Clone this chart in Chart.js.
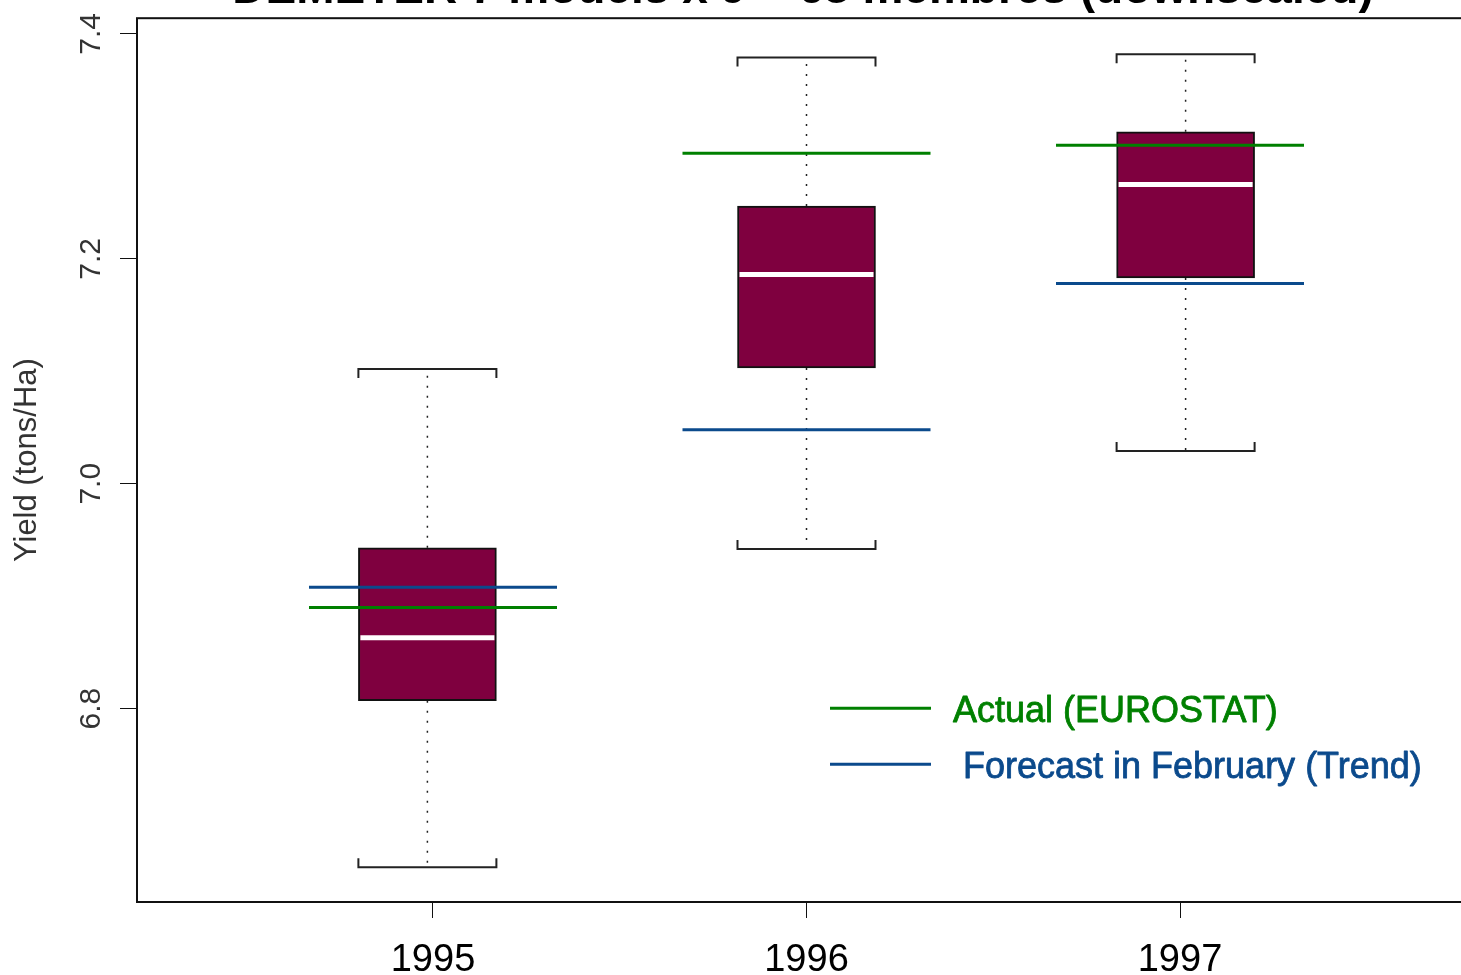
<!DOCTYPE html>
<html>
<head>
<meta charset="utf-8">
<title>DEMETER yield boxplot</title>
<script src="https://cdn.jsdelivr.net/npm/chart.js@4.4.1/dist/chart.umd.min.js"></script>
<style>
  html, body { margin: 0; padding: 0; background: #fff; overflow: hidden; }
  #wrap { position: relative; width: 1461px; height: 975px; overflow: hidden; }
  #yieldChart { position: absolute; left: 0; top: -40px; }
</style>
</head>
<body>
<div id="wrap"><canvas id="yieldChart" width="1606" height="1015"></canvas></div>
<script>
// Ensemble yield spread per year (tons/Ha)
const years = [1995, 1996, 1997];
const boxAt = [1994.985, 1996.0, 1997.015];
const whiskerLow = [6.659, 6.942, 7.029];
const boxLow = [6.807, 7.103, 7.183];
const median = [6.863, 7.186, 7.266];
const boxHigh = [6.943, 7.247, 7.313];
const whiskerHigh = [7.102, 7.379, 7.382];

// Reference values
const actual = [6.890, 7.294, 7.301];
const forecast = [6.908, 7.048, 7.178];

const yTicks = [6.8, 7.0, 7.2, 7.4];
const legendLabels = ["Actual (EUROSTAT)", " Forecast in February (Trend)"];

const boxColor = "#7f003f";
const green = "#008000";
const blue = "#0b4a8c";
const font = "'Liberation Sans', Arial, Helvetica, sans-serif";

// Whiskers, caps, frame, rotated y labels and the legend
const extras = {
    id: "extras",
    beforeDatasetsDraw(chart) {
        const { ctx } = chart;
        const x = chart.scales.x, y = chart.scales.y;
        ctx.save();
        boxAt.forEach(function (pos, i) {
            const px = x.getPixelForValue(pos);
            // dotted whiskers
            ctx.strokeStyle = "#222";
            ctx.lineWidth = 1.5;
            ctx.setLineDash([2, 8]);
            ctx.beginPath();
            ctx.moveTo(px, y.getPixelForValue(boxHigh[i]));
            ctx.lineTo(px, y.getPixelForValue(whiskerHigh[i]));
            ctx.moveTo(px, y.getPixelForValue(boxLow[i]));
            ctx.lineTo(px, y.getPixelForValue(whiskerLow[i]));
            ctx.stroke();
            // bracket caps
            ctx.setLineDash([]);
            ctx.lineWidth = 2;
            const hw = 69;
            const top = y.getPixelForValue(whiskerHigh[i]);
            const bot = y.getPixelForValue(whiskerLow[i]);
            ctx.beginPath();
            ctx.moveTo(px - hw, top + 9);
            ctx.lineTo(px - hw, top);
            ctx.lineTo(px + hw, top);
            ctx.lineTo(px + hw, top + 9);
            ctx.moveTo(px - hw, bot - 9);
            ctx.lineTo(px - hw, bot);
            ctx.lineTo(px + hw, bot);
            ctx.lineTo(px + hw, bot - 9);
            ctx.stroke();
        });
        ctx.restore();
    },
    afterDraw(chart) {
        const { ctx, chartArea } = chart;
        const y = chart.scales.y;
        ctx.save();
        // plot frame
        ctx.strokeStyle = "#111";
        ctx.lineWidth = 2;
        ctx.strokeRect(chartArea.left, chartArea.top,
            chartArea.right - chartArea.left, chartArea.bottom - chartArea.top);

        // y tick labels, rotated like the axis title
        ctx.fillStyle = "#333";
        ctx.font = "30px " + font;
        ctx.textAlign = "center";
        ctx.textBaseline = "middle";
        y.ticks.forEach(function (t) {
            ctx.save();
            ctx.translate(chartArea.left - 45, y.getPixelForValue(t.value));
            ctx.rotate(-Math.PI / 2);
            ctx.fillText(t.value.toFixed(1), 0, 0);
            ctx.restore();
        });

        // legend
        const colors = [green, blue];
        const lx = 830, ly = chartArea.top + 690;
        ctx.font = "36px " + font;
        ctx.textAlign = "left";
        ctx.lineJoin = "round";
        legendLabels.forEach(function (label, i) {
            const yy = ly + i * 56;
            ctx.strokeStyle = colors[i];
            ctx.lineWidth = 3;
            ctx.beginPath();
            ctx.moveTo(lx, yy);
            ctx.lineTo(lx + 101, yy);
            ctx.stroke();
            ctx.fillStyle = colors[i];
            ctx.fillText(label, 953, yy + 4);
            ctx.lineWidth = 0.8;
            ctx.strokeText(label, 953, yy + 4);
        });
        ctx.restore();
    }
};

const ctx = document.getElementById("yieldChart").getContext("2d");

new Chart(ctx, {
    type: "bar",
    data: {
        datasets: [
            {
                type: "scatter",
                label: legendLabels[0],
                data: years.map((yr, i) => ({ x: yr, y: actual[i] })),
                pointStyle: "line",
                pointRadius: 124,
                pointBorderColor: green,
                pointBorderWidth: 3,
                order: 0
            },
            {
                type: "scatter",
                label: legendLabels[1],
                data: years.map((yr, i) => ({ x: yr, y: forecast[i] })),
                pointStyle: "line",
                pointRadius: 124,
                pointBorderColor: blue,
                pointBorderWidth: 3,
                order: 1
            },
            {
                type: "scatter",
                label: "Median",
                data: boxAt.map((pos, i) => ({ x: pos, y: median[i] })),
                pointStyle: "line",
                pointRadius: 67,
                pointBorderColor: "#ffffff",
                pointBorderWidth: 5,
                order: 2
            },
            {
                type: "bar",
                label: "Interquartile range",
                data: boxAt.map((pos, i) => ({ x: pos, y: [boxLow[i], boxHigh[i]] })),
                backgroundColor: boxColor,
                borderColor: "#111",
                borderWidth: 2,
                borderSkipped: false,
                barThickness: 138,
                order: 3
            }
        ]
    },
    options: {
        responsive: false,
        animation: false,
        events: [],
        layout: { autoPadding: false, padding: 0 },
        plugins: {
            legend: { display: false },
            tooltip: { enabled: false },
            title: {
                display: true,
                text: "DEMETER 7 models x 9 = 63 membres (downscaled)",
                color: "#000",
                font: { family: font, size: 46, weight: "bold" },
                padding: { top: 3, bottom: 0 }
            }
        },
        scales: {
            x: {
                type: "linear",
                min: 1994.2075,
                max: 1997.7925,
                offset: false,
                afterFit: function (scale) { scale.height = 73; },
                afterBuildTicks: function (scale) {
                    scale.ticks = years.map(v => ({ value: v }));
                },
                ticks: {
                    color: "#000",
                    font: { family: font, size: 38 },
                    padding: 20,
                    maxRotation: 0,
                    callback: function (v) { return String(v); }
                },
                grid: { offset: false, drawOnChartArea: false, drawTicks: true, tickLength: 16, color: "#111", lineWidth: 1 },
                border: { display: false }
            },
            y: {
                type: "linear",
                min: 6.628,
                max: 7.414,
                afterFit: function (scale) { scale.width = 137; },
                afterBuildTicks: function (scale) {
                    scale.ticks = yTicks.map(v => ({ value: v }));
                },
                ticks: { display: false },
                grid: { drawOnChartArea: false, drawTicks: true, tickLength: 17, color: "#111", lineWidth: 1 },
                border: { display: false },
                title: {
                    display: true,
                    text: "Yield (tons/Ha)",
                    color: "#333",
                    font: { family: font, size: 31 },
                    padding: { top: 9, bottom: 0 }
                }
            },
            // empty margin on the right of the plot
            yRight: {
                type: "linear",
                position: "right",
                min: 6.628,
                max: 7.414,
                afterFit: function (scale) { scale.width = 130; },
                ticks: { display: false },
                grid: { display: false },
                border: { display: false }
            }
        }
    },
    plugins: [extras]
});
</script>
</body>
</html>
